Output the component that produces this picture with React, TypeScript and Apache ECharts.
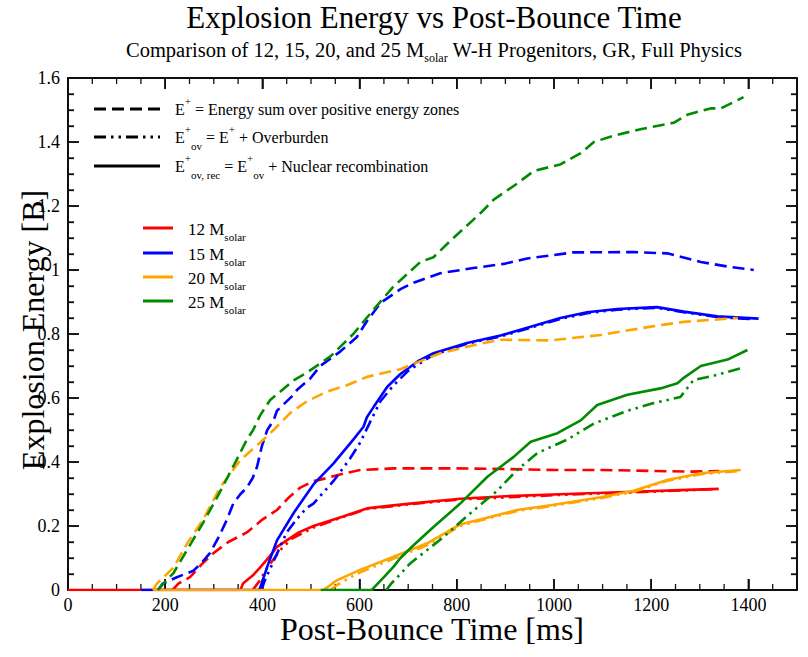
import React, { useEffect, useRef } from "react";
import * as echarts from "echarts";

type P = [number, number];

const xTickValues = [0, 200, 400, 600, 800, 1000, 1200, 1400];
const yTickValues = [0, 0.2, 0.4, 0.6, 0.8, 1, 1.2, 1.4, 1.6];

const massLabels = ["12", "15", "20", "25"];
const massColors = ["#ff0000", "#0000ff", "#ffa500", "#008b00"];

// 12 Msolar
const m12Eplus: P[] = [[215,0],[227,0.02],[251,0.04],[275,0.08],[299,0.115],[330,0.15],[368,0.18],[400,0.22],[430,0.25],[455,0.29],[478,0.32],[505,0.34],[533,0.35],[570,0.365],[601,0.375],[670,0.38],[800,0.38],[900,0.378],[1000,0.375],[1100,0.375],[1200,0.372],[1280,0.37],[1340,0.372]];
const m12Eov: P[] = [[380,0],[395,0.03],[410,0.07],[425,0.1],[440,0.13],[460,0.16],[505,0.195],[566,0.228],[615,0.253],[704,0.268],[807,0.283],[1027,0.298],[1164,0.305],[1330,0.315]];
const m12Erec: P[] = [[0,0],[355,0],[360,0.02],[380,0.045],[395,0.07],[415,0.105],[430,0.135],[450,0.155],[475,0.18],[505,0.2],[566,0.23],[615,0.255],[660,0.263],[704,0.27],[807,0.285],[900,0.293],[1027,0.3],[1164,0.307],[1260,0.312],[1339,0.316]];

// 15 Msolar
const m15Eplus: P[] = [[185,0],[195,0.02],[224,0.04],[258,0.06],[275,0.085],[292,0.115],[310,0.165],[327,0.22],[340,0.27],[355,0.3],[368,0.32],[380,0.35],[389,0.385],[399,0.45],[410,0.5],[423,0.53],[430,0.56],[464,0.61],[471,0.625],[498,0.66],[519,0.7],[560,0.745],[594,0.79],[615,0.84],[643,0.897],[684,0.94],[711,0.96],[766,0.99],[834,1.006],[900,1.02],[945,1.036],[1040,1.055],[1164,1.056],[1233,1.052],[1302,1.025],[1360,1.01],[1411,1.0]];
const m15Eov: P[] = [[398,0],[405,0.03],[420,0.08],[435,0.13],[450,0.18],[470,0.22],[490,0.255],[505,0.27],[546,0.34],[580,0.41],[601,0.46],[620,0.52],[643,0.59],[670,0.64],[700,0.685],[752,0.735],[821,0.77],[890,0.792],[959,0.823],[1013,0.847],[1068,0.865],[1130,0.876],[1212,0.882],[1267,0.868],[1336,0.853],[1410,0.846]];
const m15Erec: P[] = [[150,0],[392,0],[395,0.005],[410,0.073],[430,0.155],[464,0.24],[505,0.33],[546,0.395],[587,0.47],[608,0.51],[615,0.54],[628,0.57],[657,0.635],[684,0.675],[720,0.715],[752,0.74],[821,0.772],[890,0.795],[959,0.826],[1013,0.85],[1068,0.868],[1130,0.878],[1212,0.884],[1267,0.87],[1336,0.855],[1421,0.848]];

// 20 Msolar
const m20Eplus: P[] = [[175,0],[183,0.02],[200,0.045],[217,0.07],[245,0.145],[278,0.22],[313,0.32],[354,0.405],[395,0.46],[423,0.5],[457,0.553],[492,0.59],[533,0.62],[574,0.64],[615,0.666],[684,0.69],[766,0.74],[849,0.77],[890,0.782],[993,0.78],[1096,0.797],[1199,0.823],[1267,0.838],[1378,0.85]];
const m20Eov: P[] = [[540,0],[553,0.015],[575,0.035],[601,0.055],[670,0.098],[739,0.14],[807,0.2],[860,0.222],[924,0.247],[993,0.262],[1096,0.287],[1164,0.307],[1233,0.341],[1302,0.362],[1380,0.372]];
const m20Erec: P[] = [[175,0],[525,0],[535,0.01],[553,0.03],[601,0.063],[670,0.104],[739,0.146],[807,0.205],[860,0.225],[924,0.25],[993,0.265],[1096,0.29],[1164,0.31],[1233,0.344],[1302,0.365],[1384,0.375]];

// 25 Msolar
const m25Eplus: P[] = [[185,0],[196,0.02],[217,0.053],[245,0.125],[278,0.21],[307,0.29],[348,0.41],[368,0.47],[381,0.5],[395,0.545],[416,0.594],[437,0.62],[464,0.655],[492,0.68],[540,0.73],[587,0.8],[628,0.875],[669,0.947],[725,1.025],[752,1.04],[793,1.1],[849,1.178],[876,1.22],[924,1.27],[959,1.31],[1013,1.33],[1055,1.365],[1082,1.4],[1123,1.42],[1178,1.44],[1246,1.46],[1274,1.485],[1322,1.505],[1343,1.505],[1390,1.54]];
const m25Eov: P[] = [[655,0],[665,0.02],[684,0.05],[704,0.083],[773,0.166],[828,0.24],[883,0.31],[924,0.375],[966,0.428],[1027,0.47],[1082,0.52],[1151,0.56],[1205,0.584],[1260,0.603],[1287,0.656],[1330,0.67],[1390,0.695]];
const m25Erec: P[] = [[520,0],[625,0],[628,0.005],[650,0.04],[670,0.073],[684,0.1],[711,0.14],[752,0.197],[807,0.27],[863,0.354],[917,0.416],[952,0.463],[1007,0.49],[1055,0.53],[1089,0.578],[1151,0.61],[1219,0.63],[1254,0.646],[1267,0.663],[1302,0.7],[1357,0.72],[1398,0.75]];

const seriesByMass: P[][][] = [
  [m12Eplus, m12Eov, m12Erec],
  [m15Eplus, m15Eov, m15Erec],
  [m20Eplus, m20Eov, m20Erec],
  [m25Eplus, m25Eov, m25Erec],
];
const kindNames = ["E+", "E+ov", "E+ov,rec"];

const X_MAX = 1500;
const Y_MAX = 1.6;
const X_MINOR_STEP = 50;
const Y_MINOR_STEP = 0.05;

const FONT = "'Liberation Serif', 'Times New Roman', serif";
const DASH = [12, 6];
const DASHDOTDOT = [12, 5, 2.5, 5, 2.5, 5];
const dashFor = [DASH, DASHDOTDOT, "solid"];

export default function App() {
  const ref = useRef<HTMLDivElement>(null);
  useEffect(() => {
    if (!ref.current) return;
    const chart = echarts.init(ref.current, undefined, { renderer: "svg" });

    const series: any[] = [];
    seriesByMass.forEach((group, mi) => {
      group.forEach((data, ki) => {
        series.push({
          type: "line",
          name: `${massLabels[mi]} ${kindNames[ki]}`,
          data,
          xAxisIndex: 0,
          yAxisIndex: 0,
          showSymbol: false,
          symbol: "none",
          lineStyle: { color: massColors[mi], width: 2.6, type: dashFor[ki] as any },
          z: 2 + mi,
        });
      });
    });

    const labelStyle = { fontFamily: FONT, fontSize: 18, color: "#000" };
    const majorTick = { show: true, inside: true, length: 11, lineStyle: { color: "#111", width: 1.6 } };
    const yMinor = { show: true, splitNumber: 4, length: 6, lineStyle: { color: "#111", width: 1.3 } };
    const boxLine = { show: true, onZero: false, lineStyle: { color: "#000", width: 1.5 } };

    chart.setOption({
      animation: false,
      backgroundColor: "#fff",
      grid: {
        left: 68,
        right: 11,
        top: 78,
        bottom: 67,
        outerBoundsMode: "none",
        show: true,
        borderColor: "#000",
        borderWidth: 1.5,
        backgroundColor: "transparent",
      },
      xAxis: [
        {
          type: "value",
          min: 0,
          max: X_MAX,
          interval: 200,
          splitLine: { show: false },
          axisLine: boxLine,
          axisTick: majorTick,
          axisLabel: {
            ...labelStyle,
            margin: 6,
            formatter: (v: number) => (xTickValues.includes(v) ? String(v) : ""),
          },
        },
        {
          type: "value",
          min: 0,
          max: X_MAX,
          interval: 200,
          position: "top",
          splitLine: { show: false },
          axisLine: boxLine,
          axisTick: majorTick,
          axisLabel: { show: false },
        },
      ],
      yAxis: [
        {
          type: "value",
          min: 0,
          max: Y_MAX,
          interval: 0.2,
          splitLine: { show: false },
          axisLine: boxLine,
          axisTick: majorTick,
          minorTick: yMinor,
          axisLabel: {
            ...labelStyle,
            margin: 8,
            formatter: (v: number) => {
              const r = Math.round(v * 10) / 10;
              return yTickValues.includes(r) ? String(r) : "";
            },
          },
        },
        {
          type: "value",
          min: 0,
          max: Y_MAX,
          interval: 0.2,
          position: "right",
          splitLine: { show: false },
          axisLine: boxLine,
          axisTick: majorTick,
          minorTick: yMinor,
          axisLabel: { show: false },
        },
      ],
      series,
    });

    const graphics: any[] = [];

    // inward ticks on all four sides, positioned through the chart's own scales
    const tickStyle = (major: boolean) => ({ stroke: "#111", lineWidth: major ? 1.6 : 1.3 });
    const px = (v: number[]) => chart.convertToPixel({ xAxisIndex: 0, yAxisIndex: 0 } as any, v) as number[];
    const ok = (p: any) => Array.isArray(p) && isFinite(p[0]) && isFinite(p[1]);
    const nX = Math.round(X_MAX / X_MINOR_STEP);
    for (let i = 0; i <= nX; i++) {
      const v = i * X_MINOR_STEP;
      const major = xTickValues.includes(v) || v === X_MAX;
      const len = major ? 11 : 6;
      const b = px([v, 0]);
      const t = px([v, Y_MAX]);
      if (!ok(b) || !ok(t)) continue;
      graphics.push({ type: "line", shape: { x1: b[0], y1: b[1] - len, x2: b[0], y2: b[1] }, style: tickStyle(major) });
      graphics.push({ type: "line", shape: { x1: t[0], y1: t[1], x2: t[0], y2: t[1] + len }, style: tickStyle(major) });
    }
    const nY = Math.round(Y_MAX / Y_MINOR_STEP);
    for (let i = 0; i <= nY; i++) {
      const v = Math.round(i * Y_MINOR_STEP * 100) / 100;
      const major = yTickValues.includes(v);
      const len = major ? 11 : 6;
      const l = px([0, v]);
      const r = px([X_MAX, v]);
      if (!ok(l) || !ok(r)) continue;
      graphics.push({ type: "line", shape: { x1: l[0], y1: l[1], x2: l[0] + len, y2: l[1] }, style: tickStyle(major) });
      graphics.push({ type: "line", shape: { x1: r[0] - len, y1: r[1], x2: r[0], y2: r[1] }, style: tickStyle(major) });
    }

    const sub = { fontSize: 11, lineHeight: 11, verticalAlign: "bottom", fontFamily: FONT, fill: "#000" };
    const sup = { fontSize: 11, lineHeight: 11, verticalAlign: "top", fontFamily: FONT, fill: "#000" };

    // titles and axis names
    graphics.push({
      type: "text",
      x: 434,
      y: 17,
      style: {
        text: "Explosion Energy vs Post-Bounce Time",
        fontFamily: FONT,
        fontSize: 31,
        fill: "#000",
        align: "center",
        verticalAlign: "middle",
      },
    });
    graphics.push({
      type: "text",
      x: 434,
      y: 50,
      style: {
        text: "Comparison of 12, 15, 20, and 25 M{sub|solar} W-H Progenitors, GR, Full Physics",
        fontFamily: FONT,
        fontSize: 20.5,
        lineHeight: 28,
        fill: "#000",
        align: "center",
        verticalAlign: "middle",
        rich: { sub: { ...sub, fontSize: 12, lineHeight: 12 } },
      },
    });
    graphics.push({
      type: "text",
      x: 432,
      y: 629,
      style: {
        text: "Post-Bounce Time [ms]",
        fontFamily: FONT,
        fontSize: 32,
        fill: "#000",
        align: "center",
        verticalAlign: "middle",
      },
    });
    graphics.push({
      type: "text",
      x: 33,
      y: 330,
      rotation: Math.PI / 2,
      style: {
        text: "Explosion Energy [B]",
        fontFamily: FONT,
        fontSize: 32,
        fill: "#000",
        align: "center",
        verticalAlign: "middle",
      },
    });

    const legendRows = [
      { y: 109, dash: DASH, text: "E{sup|+} = Energy sum over positive energy zones" },
      { y: 137, dash: DASHDOTDOT, text: "E{sup|+}{sub|ov} = E{sup|+} + Overburden" },
      { y: 166, dash: null, text: "E{sup|+}{sub|ov, rec} = E{sup|+}{sub|ov} + Nuclear recombination" },
    ];
    const colorRows = [228, 253, 277, 301];

    legendRows.forEach((r) => {
      graphics.push({
        type: "line",
        shape: { x1: 94, y1: r.y, x2: 160, y2: r.y },
        style: { stroke: "#000", lineWidth: 3, lineDash: r.dash || undefined },
      });
      graphics.push({
        type: "text",
        x: 175,
        y: r.y,
        style: {
          text: r.text,
          fontFamily: FONT,
          fontSize: 16,
          lineHeight: 28,
          fill: "#000",
          verticalAlign: "middle",
          rich: { sub, sup },
        },
      });
    });
    colorRows.forEach((y, i) => {
      graphics.push({
        type: "line",
        shape: { x1: 143, y1: y, x2: 173, y2: y },
        style: { stroke: massColors[i], lineWidth: 3 },
      });
      graphics.push({
        type: "text",
        x: 188,
        y: y + 1,
        style: {
          text: `${massLabels[i]} M{sub|solar}`,
          fontFamily: FONT,
          fontSize: 17,
          lineHeight: 26,
          fill: "#000",
          verticalAlign: "middle",
          rich: { sub },
        },
      });
    });

    chart.setOption({ graphic: graphics });
    return () => chart.dispose();
  }, []);
  return <div ref={ref} style={{ position: "absolute", left: 0, top: 0, width: 808, height: 657 }} />;
}
